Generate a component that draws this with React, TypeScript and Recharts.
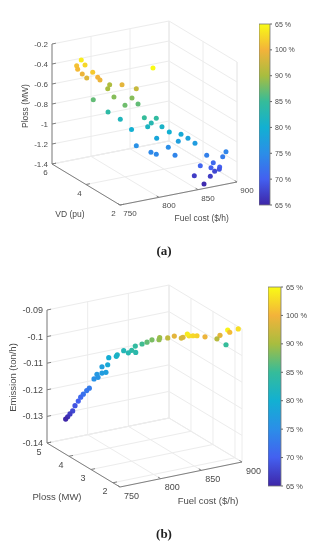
import { ScatterChart, Scatter, XAxis, YAxis, ReferenceLine, BarChart, Bar } from "recharts";

const W = 311;
const H = 550;

// panel (a): fuel cost, voltage deviation, power loss, loading
const fuelA = [778.8, 772.9, 783.6, 774.2, 793.5, 780.1, 785.8, 791.2, 794.1, 806.5, 804, 813.6, 823.2, 844.6, 794.2, 812, 826.4, 817.4, 825.4, 804.4, 811.4, 833.5, 840.1, 842.4, 837.8, 847.4, 825.8, 856.8, 863.1, 840.6, 872, 859.6, 872.3, 823.2, 855.5, 842, 840.1, 855.4, 887.3, 894.6, 890.4, 887, 879.1, 884.1, 886.5, 886, 888.8, 862.7, 874.5, 857.7];
const vdA = [5.6, 5.6, 5.6, 5.6, 5.6, 5.6, 5.6, 5.2, 5.2, 5.2, 5.2, 4.8, 4.4, 4.4, 5.6, 5.2, 4.8, 4.8, 4.4, 5.2, 4.8, 4.4, 4, 4.4, 4.4, 4, 4.8, 4, 3.6, 4, 3.6, 3.6, 3.2, 4.4, 4, 4.4, 4, 3.6, 3.2, 2.4, 2.4, 2.8, 3.2, 2.8, 2.4, 2.4, 2.8, 2.8, 2.4, 2];
const plossA = [-0.363, -0.411, -0.421, -0.449, -0.509, -0.505, -0.554, -0.514, -0.546, -0.612, -0.648, -0.582, -0.595, -0.421, -0.784, -0.743, -0.734, -0.793, -0.752, -0.881, -0.924, -0.901, -0.876, -0.968, -0.998, -0.971, -1.048, -1.039, -1.03, -1.077, -1.084, -1.095, -1.094, -1.165, -1.19, -1.26, -1.236, -1.229, -1.237, -1.13, -1.173, -1.269, -1.328, -1.315, -1.27, -1.293, -1.358, -1.362, -1.345, -1.355];
const loadA = [99, 96, 97.5, 95.5, 96.5, 94.5, 93.5, 95, 94.5, 90.5, 90, 94, 92, 100, 87, 88.5, 88.5, 87.5, 87, 84, 82, 85, 84.5, 83, 81.5, 81, 80, 80, 79, 78.5, 78, 77.5, 77, 75.5, 75, 74.5, 74.5, 74, 73.5, 74, 73, 71, 70.5, 70, 70, 69, 68, 67, 67, 65.5];

// panel (b): fuel cost, power loss, emission, loading
const fuelB = [895.4, 891.4, 893.9, 881.9, 878.2, 889.3, 863.5, 862.6, 857.7, 852.8, 850.7, 854.4, 852.3, 843.7, 835.6, 834.7, 833.9, 825.2, 819.1, 813, 813.7, 814.2, 809.3, 805.1, 799.4, 800.5, 799.3, 790, 788.7, 781.7, 786.6, 781.7, 784.5, 785.8, 780.9, 775.1, 771.9, 767.7, 764.5, 770.5, 766.5, 763.6, 760.3, 757.5, 755];
const plossB = [1.68, 2.012, 2.012, 2.012, 2.012, 2.012, 2.012, 2.344, 2.344, 2.344, 2.344, 2.676, 2.676, 2.676, 2.676, 3.008, 3.008, 3.008, 3.008, 3.008, 3.34, 3.34, 3.34, 3.34, 3.34, 3.672, 3.672, 3.672, 3.672, 3.672, 3.672, 3.672, 4.004, 4.004, 4.004, 4.004, 4.004, 4.004, 4.004, 4.336, 4.336, 4.336, 4.336, 4.336, 4.336];
const emissionB = [-0.0897, -0.0915, -0.0925, -0.0929, -0.094, -0.0969, -0.0923, -0.0935, -0.0932, -0.0929, -0.0921, -0.0952, -0.0954, -0.0941, -0.0943, -0.0958, -0.0965, -0.096, -0.0965, -0.0968, -0.0993, -0.1017, -0.1006, -0.1013, -0.1001, -0.1034, -0.1039, -0.1038, -0.1064, -0.1067, -0.1091, -0.1091, -0.1114, -0.1126, -0.1129, -0.116, -0.1167, -0.1178, -0.1187, -0.1222, -0.1237, -0.1255, -0.1264, -0.1273, -0.128];
const loadB = [98, 99.5, 95.5, 94, 91, 85, 94.5, 97, 97.5, 98, 99, 93.5, 93, 94, 91.5, 89.5, 89, 88, 87, 85.5, 84.5, 83.5, 84, 83, 82.5, 81.5, 81, 79.5, 79, 77.5, 77.5, 77, 76.5, 76, 75.5, 73, 72.5, 72, 71, 70, 69, 68, 67, 66, 65];

const fuelTicks = [750, 800, 850, 900];
const vdTicks = [2, 4, 6];
const plossTicksA = [-1.4, -1.2, -1, -0.8, -0.6, -0.4, -0.2];
const plossTicksB = [2, 3, 4, 5];
const emissionTicks = [-0.14, -0.13, -0.12, -0.11, -0.1, -0.09];

const barTicks = [65, 70, 75, 80, 85, 90, 95, 100];
const barLabels = ["65 %", "70 %", "75 %", "80 %", "85 %", "90 %", "100 %", "65 %"];
const barColors = ["#3e26a8", "#4360f0", "#2b8ee8", "#12b0d2", "#35bc9a", "#a8bd3f", "#f3b33a", "#f9fb15"];

const TEXT = "#4a4a4a";
const AXIS = "#808080";
const GRID = "#ececec";
const FONT = "'Liberation Sans', Arial, sans-serif";

function loadColor(v: number) {
  const t = Math.min(Math.max((v - 65) / 5, 0), barColors.length - 1);
  const i = Math.min(Math.floor(t), barColors.length - 2);
  const f = t - i;
  const parse = (c: string) => [1, 3, 5].map((k) => parseInt(c.slice(k, k + 2), 16));
  const a = parse(barColors[i]);
  const b = parse(barColors[i + 1]);
  return `rgb(${a.map((x, k) => Math.round(x + (b[k] - x) * f)).join(",")})`;
}

function Dot(props: any) {
  return <circle cx={props.cx} cy={props.cy} r={props.payload.r} fill={props.payload.fill} />;
}

function Label(props: any) {
  const p = props.payload;
  return (
    <text
      x={props.cx}
      y={props.cy}
      dx={p.dx}
      dy={p.dy}
      textAnchor={p.anchor}
      dominantBaseline="central"
      fontSize={p.size}
      fontFamily={FONT}
      fill={TEXT}
      transform={p.rotate ? `rotate(-90 ${props.cx} ${props.cy})` : undefined}
    >
      {p.text}
    </text>
  );
}

interface PanelProps {
  fuel: number[];
  depth: number[];
  height: number[];
  load: number[];
  depthDomain: number[];
  heightDomain: number[];
  depthTicks: number[];
  heightTicks: number[];
  // layout of the box on the page
  origin: number[];
  fuelVec: number[];
  depthVec: number[];
  heightSpan: number;
  radius: number;
  fontSize: number;
  fuelOffset: number[];
  depthOffset: number[];
  depthTitle: string;
  depthTitleAt: number[];
  heightTitle: string;
  heightTitleAt: number[];
  fuelTitleAt: number[];
}

function Panel3D(p: PanelProps) {
  const project = (f: number, d: number, h: number) => {
    const a = (f - 750) / 150;
    const u = (d - p.depthDomain[0]) / (p.depthDomain[1] - p.depthDomain[0]);
    const c = (h - p.heightDomain[0]) / (p.heightDomain[1] - p.heightDomain[0]);
    return {
      x: p.origin[0] + p.fuelVec[0] * a + p.depthVec[0] * u,
      y: p.origin[1] + p.fuelVec[1] * a + p.depthVec[1] * u - p.heightSpan * c,
    };
  };
  const [dMin, dMax] = p.depthDomain;
  const [hMin, hMax] = p.heightDomain;

  const grid: { x: number; y: number }[][] = [];
  const axes: { x: number; y: number }[][] = [
    [project(750, dMax, hMin), project(750, dMax, hMax)],
    [project(750, dMax, hMin), project(750, dMin, hMin)],
    [project(750, dMin, hMin), project(900, dMin, hMin)],
  ];
  fuelTicks.forEach((f) => {
    grid.push([project(f, dMin, hMin), project(f, dMax, hMin)]);
    grid.push([project(f, dMax, hMin), project(f, dMax, hMax)]);
    axes.push([project(f, dMin, hMin), project(f, dMin + (dMax - dMin) * 0.035, hMin)]);
  });
  p.depthTicks.concat([dMin, dMax]).forEach((d) => {
    grid.push([project(750, d, hMin), project(900, d, hMin)]);
    grid.push([project(900, d, hMin), project(900, d, hMax)]);
  });
  p.depthTicks.forEach((d) => {
    axes.push([project(750, d, hMin), project(755, d, hMin)]);
  });
  p.heightTicks.forEach((h) => {
    grid.push([project(750, dMax, h), project(900, dMax, h)]);
    grid.push([project(900, dMax, h), project(900, dMin, h)]);
    axes.push([project(750, dMax, h), project(755, dMax, h)]);
  });

  const dots = p.fuel.map((f, i) => ({
    ...project(f, p.depth[i], p.height[i]),
    fill: loadColor(p.load[i]),
    r: p.radius,
  }));

  const size = p.fontSize;
  const labels = [
    ...fuelTicks.map((f) => ({
      ...project(f, dMin, hMin),
      text: String(f),
      dx: p.fuelOffset[0],
      dy: p.fuelOffset[1],
      anchor: "middle",
      size,
    })),
    ...p.depthTicks.map((d) => ({
      ...project(750, d, hMin),
      text: String(d),
      dx: p.depthOffset[0],
      dy: p.depthOffset[1],
      anchor: "middle",
      size,
    })),
    ...p.heightTicks.map((h) => ({
      ...project(750, dMax, h),
      text: String(h),
      dx: -4,
      dy: 0,
      anchor: "end",
      size,
    })),
    { x: p.fuelTitleAt[0], y: p.fuelTitleAt[1], text: "Fuel cost ($/h)", dx: 0, dy: 0, anchor: "middle", size: size + 0.5 },
    { x: p.depthTitleAt[0], y: p.depthTitleAt[1], text: p.depthTitle, dx: 0, dy: 0, anchor: "middle", size: size + 0.5 },
    { x: p.heightTitleAt[0], y: p.heightTitleAt[1], text: p.heightTitle, dx: 0, dy: 0, anchor: "middle", size: size + 0.5, rotate: true },
  ];

  return (
    <div style={{ position: "absolute", left: 0, top: 0 }}>
      <ScatterChart width={W} height={H} margin={{ top: 0, right: 0, bottom: 0, left: 0 }}>
        <XAxis type="number" dataKey="x" domain={[0, W]} hide />
        <YAxis type="number" dataKey="y" domain={[0, H]} reversed hide />
        {grid.map((s, i) => (
          <ReferenceLine key={`g${i}`} segment={s} stroke={GRID} strokeWidth={1} />
        ))}
        {axes.map((s, i) => (
          <ReferenceLine key={`a${i}`} segment={s} stroke={AXIS} strokeWidth={1} />
        ))}
        <Scatter data={dots} shape={Dot} isAnimationActive={false} />
        <Scatter data={labels} shape={Label} isAnimationActive={false} />
      </ScatterChart>
    </div>
  );
}

function ColorBar(p: { id: string; left: number; top: number; barWidth: number; barHeight: number; axisWidth: number; fontSize: number }) {
  const renderTick = (t: any) => (
    <text x={t.x + 1} y={t.y} dominantBaseline="central" fontSize={p.fontSize} fontFamily={FONT} fill={TEXT}>
      {barLabels[barTicks.indexOf(t.payload.value)]}
    </text>
  );
  return (
    <div style={{ position: "absolute", left: p.left, top: p.top - 6 }}>
      <BarChart
        width={p.barWidth + p.axisWidth}
        height={p.barHeight + 12}
        data={[{ name: "load", value: 100 }]}
        margin={{ top: 6, right: 0, bottom: 6, left: 0 }}
        barCategoryGap={0}
      >
        <defs>
          <linearGradient id={p.id} x1="0" y1="1" x2="0" y2="0">
            {barColors.map((c, i) => (
              <stop key={c} offset={i / (barColors.length - 1)} stopColor={c} />
            ))}
          </linearGradient>
        </defs>
        <XAxis dataKey="name" hide />
        <YAxis
          orientation="right"
          type="number"
          domain={[65, 100]}
          ticks={barTicks}
          interval={0}
          width={p.axisWidth}
          axisLine={false}
          tickLine={{ stroke: "#666" }}
          tickSize={2}
          tick={renderTick}
        />
        <Bar dataKey="value" fill={`url(#${p.id})`} stroke="#777" strokeWidth={0.8} isAnimationActive={false} />
      </BarChart>
    </div>
  );
}

const captionStyle = (top: number): React.CSSProperties => ({
  position: "absolute",
  left: 0,
  top,
  width: 328,
  textAlign: "center",
  fontFamily: "'Liberation Serif', serif",
  fontWeight: "bold",
  fontSize: 13,
  lineHeight: "14px",
  color: "#222",
});

export default function App() {
  return (
    <div style={{ position: "absolute", left: 0, top: 0, width: W, height: H, background: "#fff", overflow: "hidden", filter: "blur(0.4px)" }}>
      <Panel3D
        fuel={fuelA}
        depth={vdA}
        height={plossA}
        load={loadA}
        depthDomain={[2, 6]}
        heightDomain={[-1.4, -0.2]}
        depthTicks={vdTicks}
        heightTicks={plossTicksA}
        origin={[120, 205]}
        fuelVec={[117, -23]}
        depthVec={[-68, -41]}
        heightSpan={120}
        radius={2.5}
        fontSize={8}
        fuelOffset={[10, 8.5]}
        depthOffset={[-6.5, 8.5]}
        depthTitle="VD (pu)"
        depthTitleAt={[70, 214]}
        heightTitle="Ploss (MW)"
        heightTitleAt={[25, 106]}
        fuelTitleAt={[201.7, 217.7]}
      />
      <ColorBar id="barA" left={259} top={23.5} barWidth={11} barHeight={181} axisWidth={41} fontSize={7} />
      <div style={captionStyle(244)}>(a)</div>

      <Panel3D
        fuel={fuelB}
        depth={plossB}
        height={emissionB}
        load={loadB}
        depthDomain={[1.68, 5]}
        heightDomain={[-0.14, -0.09]}
        depthTicks={plossTicksB}
        heightTicks={emissionTicks}
        origin={[120, 487]}
        fuelVec={[122, -25]}
        depthVec={[-73, -44]}
        heightSpan={133}
        radius={2.6}
        fontSize={9}
        fuelOffset={[11.5, 8.5]}
        depthOffset={[-8, 8.5]}
        depthTitle="Ploss (MW)"
        depthTitleAt={[57, 496]}
        heightTitle="Emission (ton/h)"
        heightTitleAt={[12, 377.5]}
        fuelTitleAt={[208, 500]}
      />
      <ColorBar id="barB" left={268} top={287} barWidth={13} barHeight={199} axisWidth={30} fontSize={7.4} />
      <div style={captionStyle(527)}>(b)</div>
    </div>
  );
}
